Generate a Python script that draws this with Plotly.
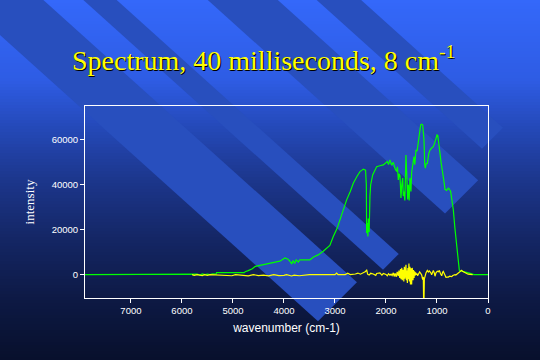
import plotly.graph_objects as go

# ---------------- data ----------------
green_wavenumber = [7900, 5800, 5760, 5740, 5700, 5650, 5600, 5550, 5500, 5450, 5400, 5330, 5320, 4780,
                    4760, 4700, 4620, 4560, 4450, 4340, 4200, 4080, 3980, 3920, 3870, 3850, 3820, 3790,
                    3760, 3720, 3690, 3600, 3490, 3420, 3330, 3230, 3150, 3100, 3033, 2960, 2902, 2840,
                    2771, 2700, 2641, 2570, 2510, 2444, 2400, 2385, 2379, 2365, 2355, 2346, 2330, 2314,
                    2300, 2261, 2183, 2120, 2052, 1974, 1950, 1922, 1890, 1856, 1820, 1791, 1775, 1758,
                    1740, 1725, 1706, 1690, 1673, 1660, 1647, 1630, 1620, 1608, 1595, 1585, 1575, 1562,
                    1545, 1530, 1510, 1497, 1475, 1451, 1435, 1412, 1390, 1366, 1340, 1320, 1300, 1281,
                    1262, 1255, 1240, 1229, 1210, 1190, 1160, 1137, 1100, 1072, 1040, 1020, 1000, 985,
                    967, 941, 920, 889, 860, 843, 810, 778, 755, 732, 710, 680, 650, 634, 615, 601, 585,
                    570, 562, 530, 484, 440, 400, 350, 290, 280, 0]
green_intensity = [0, 0, 300, 0, 200, -200, 300, 0, 200, 0, 300, 200, 900, 900,
                   1300, 1800, 2600, 3700, 4300, 4800, 5500, 6000, 7400, 6900, 5600, 4700, 6300, 5000,
                   6600, 5600, 6600, 6500, 6600, 7900, 8800, 10400, 12000, 13000, 17000, 20500, 24400, 28700,
                   33300, 37000, 40700, 43700, 45900, 47000, 46500, 40000, 18500, 23000, 17000, 25000, 19000, 35000,
                   40000, 44400, 48100, 48500, 48900, 50400, 49000, 51100, 48800, 50000, 47000, 46000, 48000, 42200,
                   45000, 44000, 34100, 40000, 43000, 35000, 37000, 33000, 45000, 53300, 46000, 40000, 33500, 40000,
                   33000, 43000, 37000, 45500, 49000, 52600, 49000, 55500, 55000, 58500, 62000, 66700, 67000, 66700,
                   62000, 60000, 49000, 47400, 49500, 49500, 54000, 55500, 56500, 57000, 59000, 60500, 62200, 62000,
                   59500, 54000, 50000, 46000, 41000, 38000, 37500, 38500, 38000, 37000, 34000, 28900, 21000, 17000, 12000, 8200, 4500,
                   2500, 1900, 1700, 1500, 1200, 900, 600, 200, 0, 0]

yellow_wavenumber = [5800, 5760, 5700, 5600, 5560, 5500, 5450, 5300, 5200, 5020, 4950, 4800, 4700, 4600,
                     4500, 4400, 4300, 4200, 4100, 4000, 3950, 3850, 3800, 3700, 3600, 3500, 3000, 2967,
                     2940, 2800, 2750, 2700, 2600, 2550, 2500, 2450, 2400, 2379, 2360, 2330, 2300, 2250,
                     2200, 2183, 2120, 2080, 2052, 2000, 1974, 1950, 1922, 1900, 1880, 1856, 1840, 1820,
                     1800, 1780, 1760, 1745, 1730, 1715, 1705, 1690, 1680, 1665, 1650, 1640, 1628, 1615,
                     1608, 1600, 1590, 1580, 1570, 1562, 1550, 1540, 1530, 1520, 1510, 1497, 1485, 1470,
                     1460, 1450, 1440, 1430, 1420, 1405, 1390, 1380, 1366, 1340, 1320, 1300, 1281, 1268,
                     1262, 1255, 1248, 1235, 1216, 1190, 1170, 1150, 1137, 1120, 1105, 1090, 1072, 1055,
                     1039, 1020, 993, 970, 954, 930, 908, 890, 876, 860, 840, 824, 800, 778, 750, 730,
                     712, 690, 670, 647, 630, 600, 582, 560, 540, 516, 500, 484, 460, 440, 418, 390, 350,
                     320, 300]
yellow_intensity = [0, -300, 0, -400, 0, -300, 0, -200, 0, -500, 0, -300, -500, 0,
                    -400, -200, -500, 0, -400, -300, 0, -600, -200, -500, -300, 0, 0, 700,
                    0, 0, 600, 0, 300, 700, 200, 900, 1400, 2200, 200, -200, 600, 300,
                    -300, 500, 800, -200, 500, 100, -500, 400, -200, 200, -400, 800, -800, 600,
                    -1000, 1200, -600, 1800, -1500, 2500, -2000, 3000, -2500, 2200, -3000, 3500, -1800, 2500,
                    4400, -2500, 1800, -3700, 3000, -2000, 4900, -3000, 3500, -4400, 2800, -4400, 3000, -2500,
                    2000, -1500, 1500, -500, 1000, 0, 500, -500, 300, 1200, 600, -200, -2200, -1000,
                    -12000, -12000, -2000, 0, 800, 1900, 1200, 1700, 1400, 800, 0, 1000, 1800, 1000,
                    -700, 800, 1500, 1300, 1900, 400, -500, 1000, 1400, 600, -1000, -1200, -1100, -1100, -700, -800,
                    -900, -400, -200, 0, -200, 300, 700, 1200, 1500, 1900, 1500, 1300, 1200, 700, 500, 200, 100,
                    0, 0]

x_ticks = [0, 1000, 2000, 3000, 4000, 5000, 6000, 7000]
y_ticks = [0, 20000, 40000, 60000]
title_text = "Spectrum, 40 milliseconds, 8 cm<sup>-1</sup>"
x_title = "wavenumber (cm-1)"
y_title = "intensity"

# ---------------- layout geometry / styling ----------------
W, H = 540, 360
ML, MR, MT, MB = 85, 52, 106, 62
PW, PH = W - ML - MR, H - MT - MB


def to_paper(px, py):
    return (px - ML) / PW, (H - MB - py) / PH


shapes = []
# vertical background gradient (styling only)
grad_stops = [(0, (52, 104, 250)), (80, (46, 92, 228)), (130, (36, 72, 182)), (180, (28, 54, 140)),
              (240, (20, 38, 100)), (300, (13, 25, 68)), (360, (8, 16, 44))]


def grad_color(y):
    for (y0, c0), (y1, c1) in zip(grad_stops[:-1], grad_stops[1:]):
        if y0 <= y <= y1:
            f = (y - y0) / (y1 - y0)
            return "rgb(%d,%d,%d)" % tuple(round(a + (b - a) * f) for a, b in zip(c0, c1))
    return "rgb(8,16,44)"


step = 3
for yy in range(0, H, step):
    x0, y0 = to_paper(0, yy)
    x1, y1 = to_paper(W, yy + step + 0.5)
    shapes.append(dict(type="rect", xref="paper", yref="paper", x0=x0, x1=x1, y0=y0, y1=y1,
                       fillcolor=grad_color(yy + step / 2), line=dict(width=0), layer="below"))

# diagonal stripes (c_hi, c_lo, tip_x), edges are y = s*x + c in pixels
slope = 0.9
stripe_defs = [(-39, 35, 318), (-105, -75, 383), (-250, -187, 445), (-325, -285, 482)]
stripe_color = "rgb(40,79,190)"
for c_hi, c_lo, xt in stripe_defs:
    ytop = -60
    p1 = ((ytop - c_hi) / slope, ytop)
    p2 = ((ytop - c_lo) / slope, ytop)
    T = (xt, slope * xt + c_lo)
    t = (c_lo - c_hi) / (1 + slope)
    U = (xt + t, T[1] - t)
    pts = [to_paper(*p) for p in (p1, p2, T, U)]
    path = "M " + " L ".join("%.5f,%.5f" % p for p in pts) + " Z"
    shapes.append(dict(type="path", xref="paper", yref="paper", path=path,
                       fillcolor=stripe_color, line=dict(width=0), layer="below"))

fig = go.Figure()
fig.add_trace(go.Scatter(x=green_wavenumber, y=green_intensity, mode="lines",
                         line=dict(color="#00ff00", width=1.2), hoverinfo="skip"))
fig.add_trace(go.Scatter(x=yellow_wavenumber, y=yellow_intensity, mode="lines",
                         line=dict(color="#ffff00", width=1.2), hoverinfo="skip"))

axis_common = dict(showgrid=False, zeroline=False, showline=True, linecolor="white", linewidth=1,
                   mirror=True, ticks="outside", ticklen=4, tickcolor="white", tickwidth=1,
                   tickfont=dict(family="Liberation Sans, Arial", size=9.5, color="white"))

tx, ty = to_paper(263, 58)
annotations = [
    dict(text=title_text, xref="paper", yref="paper", x=tx, y=ty, xanchor="center", yanchor="middle",
         showarrow=False, xshift=1.5, yshift=-1.5,
         font=dict(family="Liberation Serif, Times New Roman", size=28, color="#000000")),
    dict(text=title_text, xref="paper", yref="paper", x=tx, y=ty, xanchor="center", yanchor="middle",
         showarrow=False,
         font=dict(family="Liberation Serif, Times New Roman", size=28, color="#ffff00")),
]

fig.update_layout(
    width=W, height=H, autosize=False,
    margin=dict(l=ML, r=MR, t=MT, b=MB, pad=0),
    paper_bgcolor="rgb(8,16,44)", plot_bgcolor="rgba(0,0,0,0)",
    showlegend=False, shapes=shapes, annotations=annotations,
    xaxis=dict(range=[7900, 0], tickvals=x_ticks, tickformat="d",
               title=dict(text=x_title, font=dict(family="Liberation Sans, Arial", size=12, color="white"),
                          standoff=8),
               **axis_common),
    yaxis=dict(range=[-10400, 75100], tickvals=y_ticks, tickformat="d",
               title=dict(text=y_title, font=dict(family="Liberation Serif, Times New Roman", size=13,
                                                  color="white"), standoff=14),
               **axis_common),
)

fig.write_html("out.html", config={"displayModeBar": False},
               post_script="document.body.style.margin='0px';")
